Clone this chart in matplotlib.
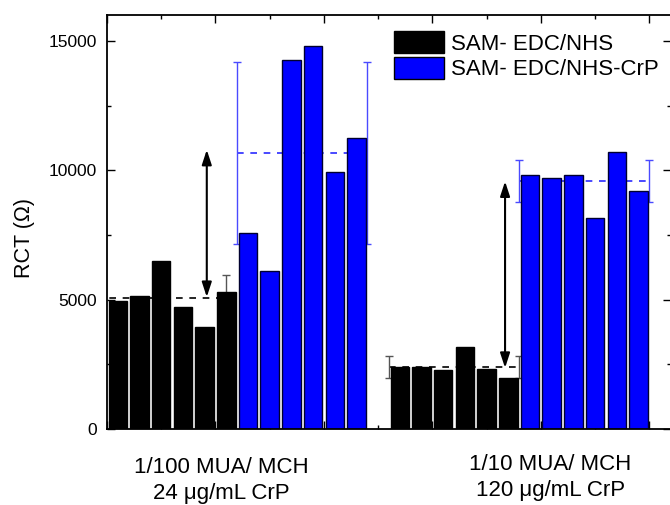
import matplotlib
matplotlib.use("Agg")
import matplotlib.pyplot as plt
import numpy as np
from matplotlib.ticker import MultipleLocator
from matplotlib.transforms import blended_transform_factory

plt.rcParams['font.family'] = ['Liberation Sans', 'DejaVu Sans']

# bar heights (Ohm)
black_g1 = [4950, 5150, 6500, 4730, 3940, 5300]
blue_g1 = [7580, 6110, 14270, 14820, 9950, 11240]
black_g2 = [2385, 2410, 2280, 3180, 2310, 1960]
blue_g2 = [9830, 9690, 9830, 8170, 10700, 9215]

# mean and spread lines
black_g1_mean, black_g1_err = 5080, 870
blue_g1_mean, blue_g1_err = 10660, 3520
black_g2_mean, black_g2_err = 2400, 440
blue_g2_mean, blue_g2_err = 9575, 815

# arrows (bottom, top)
arrow_g1 = (5100, 10790)
arrow_g2 = (2360, 9570)

legend_labels = ["SAM- EDC/NHS", "SAM- EDC/NHS-CrP"]
group_labels = ["1/100 MUA/ MCH\n24 \u03bcg/mL CrP", "1/10 MUA/ MCH\n120 \u03bcg/mL CrP"]

fig = plt.figure(figsize=(6.7, 5.05), dpi=100)
ax = fig.add_axes([107 / 670, 76 / 505, 564 / 670, 414 / 505])

step = 0.2
width = 0.17
blue = '#0000ff'


def positions(start, n):
    return start + step * np.arange(n)


sets = [
    (black_g1, 0.1, 'black', 'black', black_g1_mean, black_g1_err, (-0.1, 1.1), '#555555', 'black'),
    (blue_g1, 1.3, blue, '#000030', blue_g1_mean, blue_g1_err, (1.2, 2.4), '#4a4aff', '#2a2aff'),
    (black_g2, 2.7, 'black', 'black', black_g2_mean, black_g2_err, (2.6, 3.8), '#555555', 'black'),
    (blue_g2, 3.9, blue, '#000030', blue_g2_mean, blue_g2_err, (3.8, 5.0), '#4a4aff', '#2a2aff'),
]

for vals, start, fc, ec, m, e, ends, ecol, lcol in sets:
    xs = positions(start, len(vals))
    ax.bar(xs, vals, width=width, color=fc, edgecolor=ec, linewidth=1.0, zorder=2)
    ax.plot(ends, [m, m], ls=(0, (4, 4)), color=lcol, lw=1.2, zorder=1)
    ax.errorbar(ends, [m, m], yerr=[e, e], fmt='none', ecolor=ecol,
                elinewidth=1.0, capsize=3, capthick=1.0, zorder=1)

arrow_style = '<|-|>,head_length=0.55,head_width=0.18'
ax.annotate('', xy=(0.92, arrow_g1[1]), xytext=(0.92, arrow_g1[0]),
            arrowprops=dict(arrowstyle=arrow_style, color='black', lw=1.5,
                            mutation_scale=16, shrinkA=0, shrinkB=0), zorder=3)
ax.annotate('', xy=(3.67, arrow_g2[1]), xytext=(3.67, arrow_g2[0]),
            arrowprops=dict(arrowstyle=arrow_style, color='black', lw=1.5,
                            mutation_scale=16, shrinkA=0, shrinkB=0), zorder=3)

ax.set_xlim(0, 5.2)
ax.set_ylim(0, 16000)
ax.yaxis.set_major_locator(MultipleLocator(5000))
ax.yaxis.set_minor_locator(MultipleLocator(2500))
ax.xaxis.set_major_locator(MultipleLocator(1))
ax.xaxis.set_minor_locator(MultipleLocator(0.5))
ax.tick_params(which='both', direction='in', top=True, right=True, labelbottom=False)
ax.tick_params(which='major', length=6, width=1)
ax.tick_params(which='minor', length=3, width=1)
ax.tick_params(axis='y', labelsize=12.5, pad=7)
ax.set_axisbelow(True)
for s in ax.spines.values():
    s.set_linewidth(1.3)

# legend
handles = [plt.Rectangle((0, 0), 1, 1, facecolor='black', edgecolor='black'),
           plt.Rectangle((0, 0), 1, 1, facecolor=blue, edgecolor='black')]
fig.legend(handles, legend_labels, loc='upper left',
           bbox_to_anchor=(394 / 670, 1 - 31 / 505), frameon=False,
           fontsize=16, handlelength=2.25, handleheight=1.15,
           labelspacing=0.1, handletextpad=0.3, borderpad=0, borderaxespad=0)

# group labels below the axis
trans = blended_transform_factory(ax.transData, fig.transFigure)
ax.text(1.05, 0.048, group_labels[0], transform=trans, ha='center', va='center',
        fontsize=16, linespacing=1.3)
ax.text(4.09, 0.054, group_labels[1], transform=trans, ha='center', va='center',
        fontsize=16, linespacing=1.3)

fig.text(25 / 670, 1 - 238 / 505, 'RCT (\u03a9)', rotation=90, ha='center',
         va='center', fontsize=15.5)

fig.savefig('out.png', dpi=100)
